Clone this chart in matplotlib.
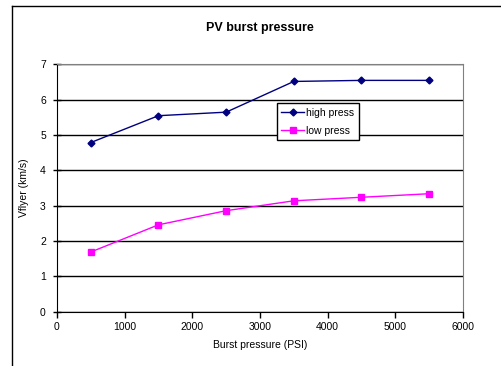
import matplotlib
matplotlib.use("Agg")
from matplotlib import pyplot as plt
from matplotlib.lines import Line2D

plt.rcParams["font.family"] = ["Liberation Sans", "DejaVu Sans"]

# burst pressure (PSI) and flyer velocity (km/s)
pressure = [500, 1500, 2500, 3500, 4500, 5500]
high_press = [4.79, 5.55, 5.65, 6.52, 6.55, 6.55]
low_press = [1.69, 2.46, 2.86, 3.14, 3.24, 3.34]
x_ticks = [0, 1000, 2000, 3000, 4000, 5000, 6000]
y_ticks = [0, 1, 2, 3, 4, 5, 6, 7]

fig = plt.figure(figsize=(5.02, 3.66), dpi=100)
ax = fig.add_axes([0.1135, 0.1484, 0.8088, 0.6754])

ax.plot(pressure, high_press, color="#000080", marker="D", markersize=3.5,
        linewidth=1, label="high press")
ax.plot(pressure, low_press, color="#FF00FF", marker="s", markersize=4,
        linewidth=1, label="low press")

ax.set_xlim(0, 6000)
ax.set_ylim(0, 7)
ax.set_xticks(x_ticks)
ax.set_yticks(y_ticks)
ax.tick_params(labelsize=7.5, length=4, width=1, direction="out")
ax.tick_params(axis="y", direction="inout", length=6, pad=5)
ax.yaxis.grid(True, color="black", linewidth=1)
ax.set_axisbelow(True)

for side in ("left", "bottom"):
    ax.spines[side].set_color("black")
for side in ("top", "right"):
    ax.spines[side].set_color("#808080")

ax.set_title("PV burst pressure", fontsize=9, fontweight="bold", pad=24)
ax.set_xlabel("Burst pressure (PSI)", fontsize=7.5, labelpad=6)
ax.set_ylabel("Vflyer (km/s)", fontsize=7.5, labelpad=8)

leg = ax.legend(loc="upper left", bbox_to_anchor=(0.541, 0.844), fontsize=7.5,
                frameon=True, fancybox=False, framealpha=1, borderpad=0.45,
                handlelength=2.2, handletextpad=0.2, labelspacing=0.75,
                borderaxespad=0)
leg.get_frame().set_edgecolor("black")
leg.get_frame().set_linewidth(1)

# outer chart frame (only left and top visible)
fig.add_artist(Line2D([12.5 / 502, 12.5 / 502], [0, 1 - 5.5 / 366],
                      color="black", linewidth=1))
fig.add_artist(Line2D([12.5 / 502, 1], [1 - 5.5 / 366, 1 - 5.5 / 366],
                      color="black", linewidth=1))

fig.savefig("out.png", dpi=100)
